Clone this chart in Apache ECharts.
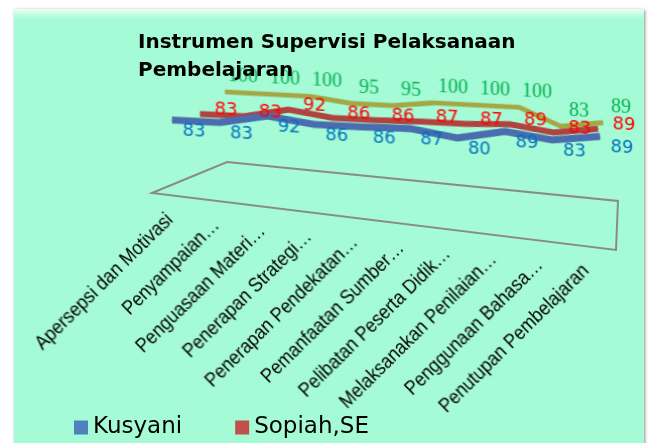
<!DOCTYPE html>
<html>
<head>
<meta charset="utf-8">
<script src="https://cdn.jsdelivr.net/npm/echarts@6/dist/echarts.min.js"></script>
<style>
  html, body { margin: 0; padding: 0; background: #fff; }
  .stage { position: relative; width: 649px; height: 443px; overflow: hidden; }
  .panel {
    position: absolute; left: 14px; top: 9px; width: 630px; height: 440px;
    background: linear-gradient(#eafff6 0px, #a5fbd5 10px);
    box-shadow: 1px 1px 3px rgba(0, 0, 0, .45);
  }
  .layer { position: absolute; left: 0; top: 0; width: 649px; height: 443px; transform-origin: 0 0; }
  /* perspective of the 3D chart, approximated by small skews */
  #plot { transform: skewY(3deg); }
  #labels { transform: skewY(7deg); }
</style>
</head>
<body>
<div class="stage">
  <div class="panel"></div>
  <div id="labels" class="layer"></div>
  <div id="plot" class="layer"></div>
  <div id="frame" class="layer"></div>
</div>
<script>
// data
const categories = [
  'Apersepsi dan Motivasi',
  'Penyampaian\u2026',
  'Penguasaan Materi\u2026',
  'Penerapan Strategi\u2026',
  'Penerapan Pendekatan\u2026',
  'Pemanfaatan Sumber\u2026',
  'Pelibatan Peserta Didik\u2026',
  'Melaksanakan Penilaian\u2026',
  'Penggunaan Bahasa\u2026',
  'Penutupan Pembelajaran'
];
const kusyani = [83, 83, 92, 86, 86, 87, 80, 89, 83, 89];
const sopiah = [83, 83, 92, 86, 86, 87, 87, 89, 83, 89];
const series3 = [100, 100, 100, 95, 95, 100, 100, 100, 83, 89];
const seriesNames = ['Kusyani', 'Sopiah,SE', 'Series3'];

// outline of the 3D floor (decoration only)
const floorOutline = [[152, 193], [227, 162], [618, 201], [616, 250]];

const labelChart = echarts.init(document.getElementById('labels'));
const plotChart = echarts.init(document.getElementById('plot'));
const frameChart = echarts.init(document.getElementById('frame'));

function ribbon(name, data, idx, color, width, label) {
  return {
    name: name,
    type: 'line',
    xAxisIndex: idx,
    yAxisIndex: idx,
    data: data,
    symbol: 'circle',
    symbolSize: 1,
    lineStyle: { color: color, width: width, join: 'round' },
    itemStyle: { color: color },
    label: Object.assign({ show: true, position: 'inside' }, label),
    silent: true
  };
}

// category axis along the front edge of the floor
labelChart.setOption({
  backgroundColor: 'transparent',
  animation: false,
  grid: { left: 170, top: 100, width: 416, height: 88 },
  xAxis: {
    type: 'category',
    data: categories,
    boundaryGap: false,
    axisLine: { show: false },
    axisTick: { show: false },
    axisLabel: {
      interval: 0, rotate: 48, margin: 8,
      fontFamily: 'Liberation Sans', fontSize: 19, color: '#000'
    }
  },
  yAxis: { type: 'value', min: 0, max: 100, show: false },
  series: []
});

plotChart.setOption({
  backgroundColor: 'transparent',
  animation: false,
  // back to front: green, red, blue
  grid: [
    { left: 225, top: 80, width: 378, height: 100 },
    { left: 200, top: 86.5, width: 398, height: 100 },
    { left: 172, top: 94, width: 428, height: 100 }
  ],
  xAxis: [0, 1, 2].map(i => ({
    gridIndex: i, type: 'category', data: categories, boundaryGap: false, show: false
  })),
  yAxis: [0, 1, 2].map(i => ({
    gridIndex: i, type: 'value', min: 0, max: 100, show: false
  })),
  series: [
    ribbon(seriesNames[2], series3, 0, '#a3a846', 5, {
      offset: [18, -16], color: '#00b050', fontFamily: 'Liberation Serif', fontSize: 20
    }),
    ribbon(seriesNames[1], sopiah, 1, '#b0423f', 6, {
      offset: [26, -5], color: '#ff0000', fontFamily: 'DejaVu Sans', fontSize: 18
    }),
    ribbon(seriesNames[0], kusyani, 2, '#4a6db0', 7, {
      offset: [22, 10], color: '#0070c0', fontFamily: 'DejaVu Sans', fontSize: 18
    })
  ]
});

frameChart.setOption({
  backgroundColor: 'transparent',
  animation: false,
  title: {
    text: 'Instrumen Supervisi Pelaksanaan\nPembelajaran',
    left: 133,
    top: 24,
    textStyle: {
      fontFamily: 'DejaVu Sans', fontWeight: 'bold', fontSize: 20, lineHeight: 28, color: '#000'
    }
  },
  legend: {
    left: 74,
    top: 416,
    padding: 0,
    icon: 'rect',
    itemWidth: 14,
    itemHeight: 14,
    itemGap: 53,
    data: [seriesNames[0], seriesNames[1]],
    textStyle: { fontFamily: 'DejaVu Sans', fontSize: 23, color: '#000' }
  },
  grid: { show: false },
  xAxis: { type: 'category', show: false },
  yAxis: { type: 'value', show: false },
  // legend entries only
  series: [
    { name: seriesNames[0], type: 'line', data: [], itemStyle: { color: '#4f81bd' } },
    { name: seriesNames[1], type: 'line', data: [], itemStyle: { color: '#c0504d' } }
  ],
  graphic: [{
    type: 'polygon',
    silent: true,
    shape: { points: floorOutline },
    style: { fill: 'none', stroke: '#8a8a8a', lineWidth: 2 }
  }]
});
</script>
</body>
</html>
